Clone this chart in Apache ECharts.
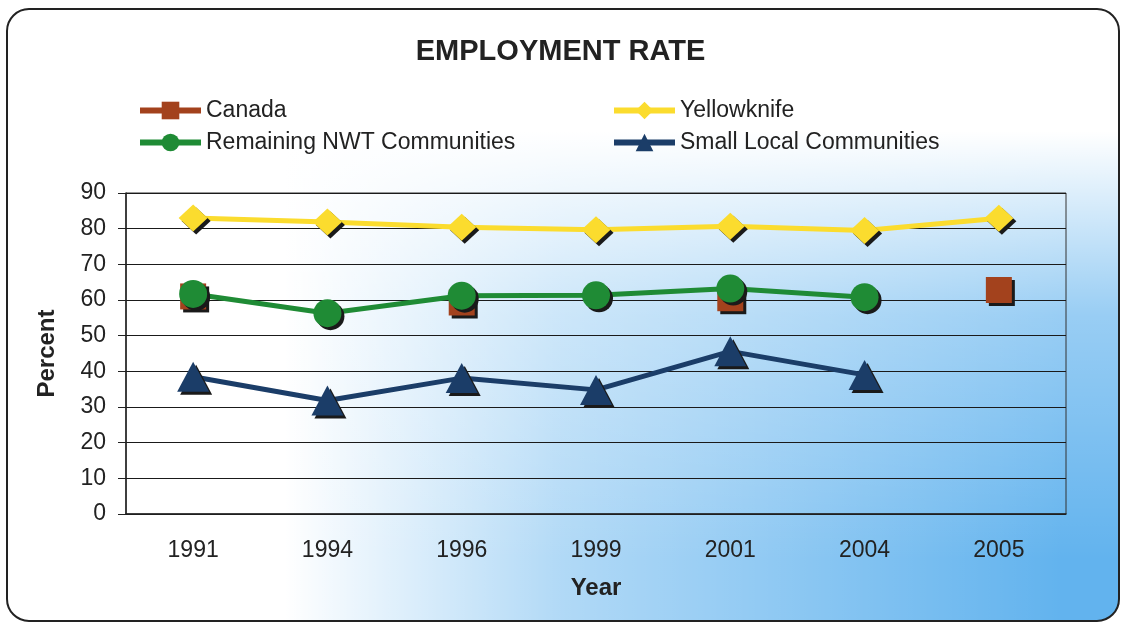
<!DOCTYPE html>
<html>
<head>
<meta charset="utf-8">
<title>Employment Rate</title>
<script src="https://cdn.jsdelivr.net/npm/echarts@6/dist/echarts.min.js"></script>
<style>
  html, body { margin: 0; padding: 0; background: #fff; }
  #chart { width: 1121px; height: 625px; }
</style>
</head>
<body>
<div id="chart"></div>
<script>
  // values (percent)
  const years = ['1991', '1994', '1996', '1999', '2001', '2004', '2005'];
  const canada = [61, null, 59.3, null, 60.5, null, 62.8];
  const yellowknife = [83, 81.9, 80.4, 79.7, 80.7, 79.5, 82.9];
  const remainingNwt = [61.7, 56.3, 61.2, 61.3, 63.2, 60.8, null];
  const smallLocal = [38.5, 31.8, 38.1, 34.8, 45.6, 39, null];

  const FONT = '"Liberation Sans", Arial, sans-serif';
  const box = { x: 7, y: 9, width: 1112, height: 612, r: 22 };
  const markerShadow = { shadowColor: '#1a1a1a', shadowBlur: 0, shadowOffsetX: 3, shadowOffsetY: 3 };

  function white(stops) {
    return stops.map(s => ({ offset: s[0], color: 'rgba(255,255,255,' + s[1] + ')' }));
  }

  function lineSeries(name, data, color, symbol, size) {
    return {
      name: name,
      type: 'line',
      data: data,
      connectNulls: false,
      symbol: symbol,
      symbolSize: size,
      showAllSymbol: true,
      lineStyle: { color: color, width: 5 },
      itemStyle: Object.assign({ color: color }, markerShadow),
      emphasis: { disabled: true }
    };
  }

  function legendColumn(left, names) {
    return {
      orient: 'vertical',
      left: left,
      top: 99,
      padding: 0,
      itemWidth: 61,
      itemHeight: 22,
      itemGap: 9,
      data: names,
      lineStyle: { width: 6 },
      itemStyle: { shadowColor: 'transparent', shadowOffsetX: 0, shadowOffsetY: 0 },
      textStyle: { fontFamily: FONT, fontSize: 23, color: '#222' }
    };
  }

  const chart = echarts.init(document.getElementById('chart'));

  chart.setOption({
    animation: false,
    title: {
      text: 'EMPLOYMENT RATE',
      left: 'center',
      top: 32,
      textStyle: { fontFamily: FONT, fontSize: 29, fontWeight: 'bold', color: '#222' }
    },
    graphic: [
      { type: 'rect', z: -10, shape: box, style: { fill: '#62b3ee' } },
      { type: 'rect', z: -9, shape: box, style: { fill: { type: 'linear', x: 0, y: 0, x2: 1, y2: 0,
        colorStops: white([[0, 1], [0.25, 1], [0.5, 0.5], [0.95, 0]]) } } },
      { type: 'rect', z: -8, shape: box, style: { fill: { type: 'linear', x: 0, y: 0, x2: 0, y2: 1,
        colorStops: white([[0, 1], [0.2, 1], [0.5, 0.35], [0.9, 0]]) } } },
      { type: 'rect', z: -7, shape: box, style: { fill: 'none', stroke: '#222', lineWidth: 2 } }
    ],
    legend: [
      legendColumn(137, ['Canada', 'Remaining NWT Communities']),
      legendColumn(611, ['Yellowknife', 'Small Local Communities'])
    ],
    grid: {
      left: 126,
      right: 55,
      top: 193,
      bottom: 111,
      show: true,
      borderColor: '#333',
      borderWidth: 1,
      backgroundColor: 'transparent'
    },
    xAxis: {
      type: 'category',
      data: years,
      boundaryGap: true,
      name: 'Year',
      nameLocation: 'middle',
      nameGap: 62,
      nameTextStyle: { fontFamily: FONT, fontSize: 24, fontWeight: 'bold', color: '#222' },
      axisLine: { lineStyle: { color: '#222', width: 1.5 } },
      axisTick: { length: 8, lineStyle: { color: '#222' } },
      axisLabel: { fontFamily: FONT, fontSize: 23, color: '#222', margin: 25 }
    },
    yAxis: {
      type: 'value',
      min: 0,
      max: 90,
      interval: 10,
      name: 'Percent',
      nameLocation: 'middle',
      nameGap: 67,
      nameTextStyle: { fontFamily: FONT, fontSize: 24, fontWeight: 'bold', color: '#222' },
      axisLine: { show: true, lineStyle: { color: '#222', width: 1.5 } },
      axisTick: { show: true, length: 8, lineStyle: { color: '#222' } },
      axisLabel: { fontFamily: FONT, fontSize: 23, color: '#222', margin: 20 },
      splitLine: { lineStyle: { color: '#1a1a1a', width: 1 } }
    },
    series: [
      lineSeries('Canada', canada, '#a3421d', 'rect', 26),
      lineSeries('Yellowknife', yellowknife, '#fbdc2e', 'diamond', [29, 27]),
      lineSeries('Remaining NWT Communities', remainingNwt, '#1f8b35', 'circle', 28),
      lineSeries('Small Local Communities', smallLocal, '#1b3d68', 'triangle', [32, 30])
    ]
  });

  window.addEventListener('resize', () => chart.resize());
</script>
</body>
</html>
